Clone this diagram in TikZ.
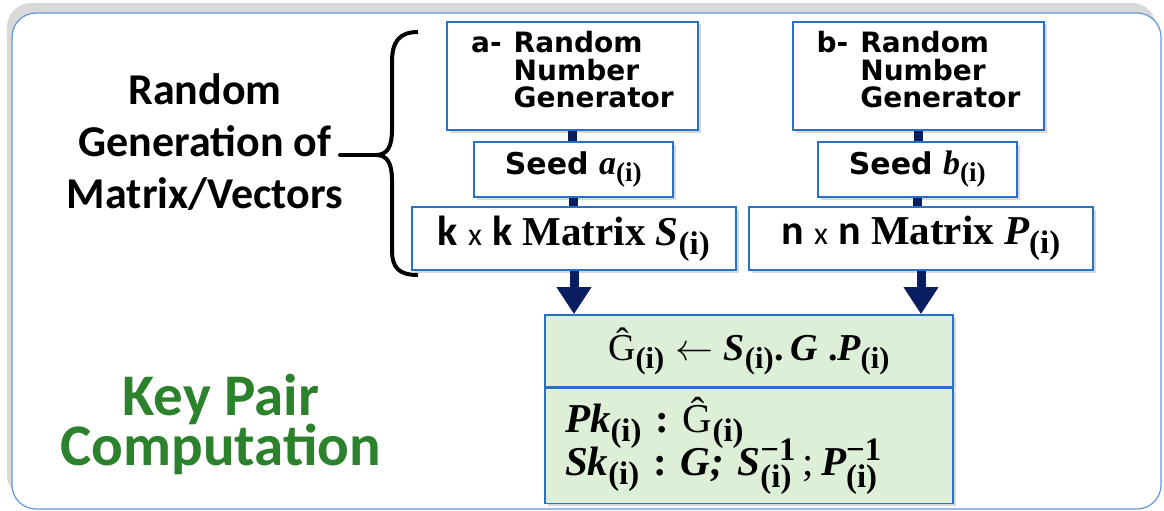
\RequirePackage{fix-cm}
\documentclass[tikz,border=0pt]{standalone}
\usepackage{amsmath}
\usepackage{fontspec}
\setmainfont{Liberation Serif}
\newfontfamily\rngfont{DejaVu Sans}
\newfontfamily\calfont{Carlito}
\usetikzlibrary{arrows.meta,shadows}
\renewcommand\defaultscriptratio{.8}
\definecolor{boxblue}{RGB}{40,112,200}
\definecolor{frameblue}{RGB}{100,150,220}
\definecolor{navy}{RGB}{8,30,95}
\definecolor{greenfill}{RGB}{222,239,216}
\definecolor{keygreen}{RGB}{44,130,44}
\newcommand\tightls{\lineskiplimit-100pt\relax}
\newcommand\bv[1]{\text{\rmfamily\bfseries\itshape #1}}
\newcommand\bs[1]{\text{\rmfamily\bfseries\upshape #1}}
\newcommand\rs[1]{\text{\rmfamily\mdseries\upshape #1}}
\newcommand\lowstrut{\rule[-13pt]{0pt}{13pt}}
\begin{document}
\begin{tikzpicture}[x=1pt,y=-1pt,
  box/.style={draw=boxblue, line width=1.6pt, fill=white, inner sep=0pt, align=center,
    drop shadow={shadow xshift=2.5pt, shadow yshift=-2.5pt, opacity=0.3}},
  rngbox/.style={box, align=left, minimum width=251pt, minimum height=108pt,
    font={\rngfont\bfseries\fontsize{28}{27.5}\selectfont\tightls}},
  seedbox/.style={box, minimum width=199pt, minimum height=55pt,
    font={\rngfont\bfseries\fontsize{30}{32}\selectfont}},
  matbox/.style={box, minimum height=63pt, font={\fontsize{41}{44}\selectfont}},
  greenbox/.style={box, fill=greenfill, minimum width=408pt},
  link/.style={draw=navy, line width=9pt},
  arr/.style={link, -{Triangle[width=33pt,length=27pt]}},
  bigtext/.style={align=center, inner sep=0pt, font={\calfont\bfseries\fontsize{44}{52}\selectfont\tightls}}
]
\useasboundingbox (0,0) rectangle (1164,511);
% outer frame
\draw[draw=frameblue, line width=1.2pt, fill=white, rounded corners=24pt,
  drop shadow={shadow xshift=-5pt, shadow yshift=10pt, opacity=0.25, fill=black!60}]
  (12,13) rectangle (1161,509);

% left texts
\node[bigtext] (gentext) at (205,142) {Random\\Generation of\\Matrix/Vectors};
\node[bigtext, text=keygreen, font={\calfont\bfseries\fontsize{59}{50}\selectfont\tightls}]
  (keytext) at (221,424) {Key Pair\\Computation};

% brace
\draw[line width=4pt, line cap=round] (340,155) -- (376,155);
\draw[line width=4pt] (418,32) .. controls (399,32) and (392,42) .. (392,62) -- (392,130)
  .. controls (392,147) and (387,155) .. (376,155)
  .. controls (387,155) and (392,163) .. (392,180) -- (392,250)
  .. controls (392,268) and (399,275) .. (418,275);

% left column
\node[rngbox] (rnga) at (572.5,76) {a-\hspace{12pt}Random\\\hphantom{a-\hspace{12pt}}Number\\\hphantom{a-\hspace{12pt}}Generator\lowstrut};
\node[seedbox] (seeda) at (573.5,169.5) {Seed {\fontsize{34}{34}\selectfont$\bv{a}_{\bs{(i)}}$}};
\node[matbox, minimum width=324pt] (mats) at (574,238.5)
  {{\calfont\bfseries\fontsize{42}{44}\selectfont k} {\calfont\fontsize{32}{32}\selectfont x} {\calfont\bfseries\fontsize{42}{44}\selectfont k} \textbf{Matrix} $\bv{S}_{\bs{(i)}}$};

% right column
\node[rngbox] (rngb) at (918.5,76) {b-\hspace{12pt}Random\\\hphantom{b-\hspace{12pt}}Number\\\hphantom{b-\hspace{12pt}}Generator\lowstrut};
\node[seedbox] (seedb) at (917.5,169.5) {Seed {\fontsize{34}{34}\selectfont$\bv{b}_{\bs{(i)}}$}};
\node[matbox, minimum width=344pt] (matp) at (921,238.5)
  {{\calfont\bfseries\fontsize{42}{44}\selectfont n} {\calfont\fontsize{32}{32}\selectfont x} {\calfont\bfseries\fontsize{42}{44}\selectfont n} \textbf{Matrix} $\bv{P}_{\bs{(i)}}$};

% green box
\node[greenbox, minimum height=72pt, font={\fontsize{38}{40}\selectfont}] (gtop) at (749,351)
  {$\rs{Ĝ}_{\bs{(i)}} \leftarrow \bv{S}_{\bs{(i)}}\bs{.}\,\bv{G}\;\bs{.}\bv{P}_{\bs{(i)}}$};
\node[greenbox, anchor=north, minimum height=115pt, align=left, text width=368pt,
  font={\fontsize{41}{43}\selectfont\tightls}] (gbot) at (gtop.south)
  {$\bv{Pk}_{\bs{(i)}}\ \bs{:}\ \rs{Ĝ}_{\bs{(i)}}$\\
   $\bv{Sk}_{\bs{(i)}}\ \bs{:}\ \bv{G;}\ \bv{S}^{\bs{−1}}_{\bs{(i)}}\,\rs{;}\,\bv{P}^{\bs{−1}}_{\bs{(i)}}$};

% connectors
\draw[link] (rnga.south) -- (rnga.south |- seeda.north);
\draw[link] (seeda.south) -- (seeda.south |- mats.north);
\draw[arr] (mats.south) -- (mats.south |- gtop.north);
\draw[link] (rngb.south) -- (rngb.south |- seedb.north);
\draw[link] (seedb.south) -- (seedb.south |- matp.north);
\draw[arr] (matp.south) -- (matp.south |- gtop.north);
\end{tikzpicture}
\end{document}
